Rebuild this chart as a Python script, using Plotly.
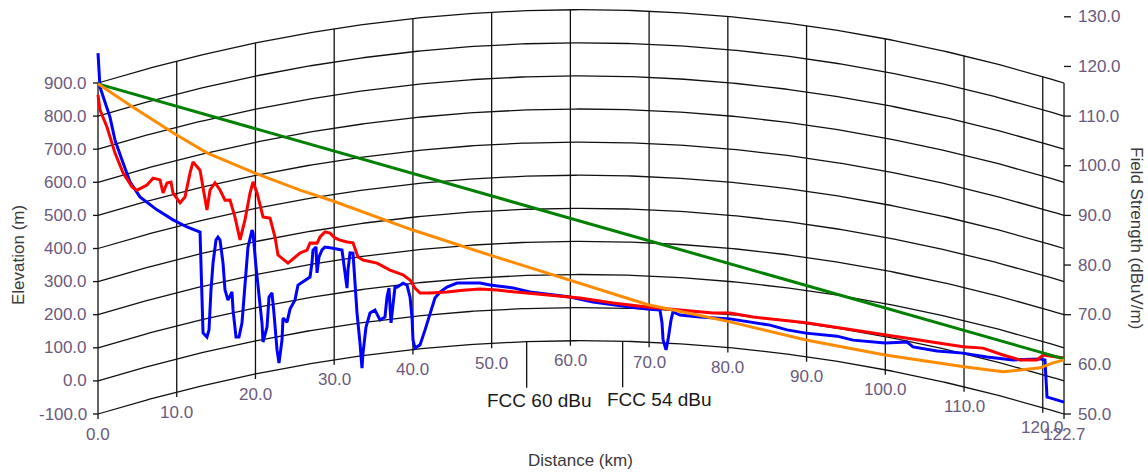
import numpy as np
import plotly.graph_objects as go

# ---------------- data ----------------
TOTAL_KM = 122.7
EARTH_DIV = 17.0  # 4/3 earth bulge: d1*d2/(12.74*4/3)  (m, with km)

dist_ticks = [0, 10, 20, 30, 40, 50, 60, 70, 80, 90, 100, 110, 120, 122.7]
elev_levels = [-100, 0, 100, 200, 300, 400, 500, 600, 700, 800, 900]
fs_ticks = [50, 60, 70, 80, 90, 100, 110, 120, 130]

terrain_km = [0.0, 0.25, 1.52, 2.16, 3.05, 4.06, 5.33, 7.49, 9.53, 11.30, 12.96, 13.21, 13.34,
              13.84, 14.10, 14.35, 14.61, 14.99, 15.24, 15.50, 15.88, 16.13, 16.51, 17.02, 17.15,
              17.53, 17.91, 18.29, 18.54, 19.05, 19.56, 19.69, 20.07, 20.45, 20.83, 20.96, 21.47,
              21.72, 22.10, 22.35, 22.74, 22.99, 23.37, 23.50, 24.01, 24.39, 25.02, 25.40, 26.29,
              26.93, 27.18, 27.31, 27.69, 27.82, 28.07, 28.45, 28.83, 29.85, 30.99, 31.37, 31.63,
              31.75, 32.01, 32.39, 32.64, 32.90, 33.28, 33.53, 33.66, 34.04, 34.55, 35.18, 35.82,
              36.45, 36.71, 36.96, 37.22, 37.47, 37.72, 37.98, 38.36, 38.74, 39.25, 39.63, 39.88,
              40.01, 40.26, 40.90, 41.53, 42.17, 42.80, 43.44, 44.33, 45.60, 47.25, 48.52, 49.79,
              52.71, 54.87, 57.03, 59.95, 62.87, 65.41, 67.57, 69.73, 71.38, 71.64, 71.77, 72.15,
              72.40, 72.78, 73.03, 73.92, 76.46, 80.27, 83.20, 85.36, 87.51, 89.93, 93.87, 95.90,
              99.96, 102.76, 103.52, 106.57, 109.87, 112.92, 116.22, 119.65, 120.28, 120.54,
              120.92, 122.70]
terrain_m = [990, 886, 786, 712, 646, 573, 519, 466, 423, 391, 366, 196, 59,
             44, 64, 183, 263, 331, 338, 328, 256, 174, 141, 163, 108,
             24, 22, 63, 140, 288, 337, 328, 223, 130, 50, -8, 35,
             124, 135, 73, -40, -81, -13, 53, 38, 76, 101, 144, 156,
             162, 204, 242, 250, 171, 218, 238, 245, 238, 228, 166, 111,
             165, 216, 214, 132, 31, -61, -137, -92, -15, 26, 33, 1,
             8, 68, 94, -12, 47, 95, 94, 99, 104, 97, 60, -1,
             -71, -96, -88, -45, 5, 49, 66, 79, 89, 86, 84, 76,
             64, 50, 42, 32, 17, 9, 4, 0, -1, -40, -91, -121,
             -91, -30, -5, -13, -15, -13, -18, -19, -27, -29, -24, -28,
             -19, -3, -14, -11, 1, 7, 19, 45, 46, -64,
             -64, -64]

clutter_km = [0.0, 0.25, 1.14, 2.16, 3.18, 4.32, 4.95, 6.22, 6.99, 7.88, 8.26, 8.76, 9.27, 9.53,
              10.42, 11.05, 11.69, 12.07, 12.96, 13.34, 13.84, 14.23, 14.86, 15.50, 16.13, 16.77,
              17.40, 18.04, 18.67, 19.31, 19.69, 20.20, 20.96, 21.85, 22.48, 22.86, 24.13, 25.66,
              26.55, 26.93, 27.82, 28.20, 28.83, 29.47, 30.10, 30.74, 31.63, 32.39, 33.02, 33.66,
              35.44, 37.09, 38.74, 39.63, 40.26, 40.90, 42.17, 44.33, 46.36, 48.52, 50.68, 52.71,
              57.03, 61.22, 65.41, 69.73, 73.92, 78.12, 80.27, 83.20, 89.93, 95.90, 99.96, 104.41,
              109.87, 112.41, 114.95, 117.11, 119.27, 120.03, 122.70]
clutter_m = [864, 817, 759, 673, 606, 556, 542, 549, 565, 554, 512, 539, 539, 504,
             469, 483, 552, 583, 553, 500, 428, 486, 504, 479, 445, 442,
             387, 315, 372, 450, 482, 446, 370, 362, 302, 246, 216, 240,
             245, 265, 261, 278, 291, 285, 268, 259, 250, 245, 200, 189,
             174, 148, 129, 111, 85, 69, 66, 64, 66, 66, 60, 52,
             39, 29, 15, 6, 2, 0, 5, 0, 2, 3, 5, 11,
             20, 31, 26, 25, 39, 59, 69]

fs_km = [0.0, 4.06, 9.78, 13.84, 19.94, 25.66, 29.85, 39.88, 49.79, 59.82, 69.86, 79.89,
         89.93, 99.96, 110.0, 114.95, 119.65, 121.3, 122.7]
fs_dbu = [116.5, 112.2, 106.4, 102.6, 98.5, 95.1, 92.9, 87.1, 82.0, 77.0, 72.0, 68.7,
          64.9, 61.9, 59.5, 58.5, 59.3, 60.3, 60.9]

los_km = [0.0, 122.7]
los_dbu = [116.5, 61.1]

fcc_km = [54.45, 66.64]
fcc_labels = ["FCC 60 dBu", "FCC 54 dBu"]

# ---------------- helpers ----------------
def bulge(d):
    d = np.asarray(d, dtype=float)
    return d * (TOTAL_KM - d) / EARTH_DIV

PX_PER_KM = 7.873
PX_PER_M = 0.331
X_RANGE = [-98 / PX_PER_KM, (1148 - 98) / PX_PER_KM]
Y_RANGE = [-100 - (472 - 414) / PX_PER_M, -100 + 414 / PX_PER_M]
Y2_RANGE = [50 + (Y_RANGE[0] + 100) / 15.0, 50 + (Y_RANGE[1] + 100) / 15.0]

GRID = "#111111"
fig = go.Figure()

# curved elevation grid
gx, gy = [], []
dd = np.linspace(0, TOTAL_KM, 240)
for lv in elev_levels:
    gx += list(dd) + [None]
    gy += list(lv + bulge(dd)) + [None]
# vertical distance lines
bottom_ext = 5 / PX_PER_M
for d in dist_ticks:
    b = float(bulge(d))
    gx += [d, d, None]
    gy += [elev_levels[0] + b - bottom_ext, elev_levels[-1] + b, None]
# left ticks
for lv in elev_levels:
    gx += [-5 / PX_PER_KM, 0, None]
    gy += [lv, lv, None]
fig.add_trace(go.Scatter(x=gx, y=gy, mode="lines", line=dict(color=GRID, width=1.3),
                         hoverinfo="skip", showlegend=False))

# right axis ticks (field strength)
rx, ry = [], []
for v in fs_ticks:
    rx += [TOTAL_KM, TOTAL_KM + 7 / PX_PER_KM, None]
    ry += [v, v, None]
fig.add_trace(go.Scatter(x=rx, y=ry, yaxis="y2", mode="lines", line=dict(color=GRID, width=1.3),
                         hoverinfo="skip", showlegend=False))

# FCC contour markers
fx, fy = [], []
for d in fcc_km:
    b = float(bulge(d))
    fx += [d, d, None]
    fy += [-100 + b, -100 + b - 46 / PX_PER_M, None]
fig.add_trace(go.Scatter(x=fx, y=fy, mode="lines", line=dict(color=GRID, width=1.3),
                         hoverinfo="skip", showlegend=False))

# terrain & clutter with earth curvature
fig.add_trace(go.Scatter(x=terrain_km, y=np.array(terrain_m) + bulge(terrain_km), mode="lines",
                         line=dict(color="#0000ff", width=3), showlegend=False))
fig.add_trace(go.Scatter(x=clutter_km, y=np.array(clutter_m) + bulge(clutter_km), mode="lines",
                         line=dict(color="#ff0000", width=3), showlegend=False))
# field strength lines
fig.add_trace(go.Scatter(x=los_km, y=los_dbu, yaxis="y2", mode="lines",
                         line=dict(color="#008000", width=3), showlegend=False))
fig.add_trace(go.Scatter(x=fs_km, y=fs_dbu, yaxis="y2", mode="lines",
                         line=dict(color="#ff8c00", width=3), showlegend=False))

FONT = "Arial, Liberation Sans, sans-serif"
TICKC = "#6a5a7e"
ann = []
for lv in elev_levels:
    ann.append(dict(x=0, y=lv, xref="x", yref="y", text=f"{lv:.1f}", showarrow=False,
                    xanchor="right", yanchor="middle", xshift=-9,
                    font=dict(family=FONT, size=17, color=TICKC)))
for v in fs_ticks:
    ann.append(dict(x=TOTAL_KM, y=v, xref="x", yref="y2", text=f"{v:.1f}", showarrow=False,
                    xanchor="left", yanchor="middle", xshift=12,
                    font=dict(family=FONT, size=17, color=TICKC)))
for d in dist_ticks:
    ann.append(dict(x=d, y=-100 + float(bulge(d)), xref="x", yref="y", text=f"{d:.1f}",
                    showarrow=False, xanchor="center", yanchor="middle", yshift=-20,
                    font=dict(family=FONT, size=17, color=TICKC)))
for d, lab, sh in zip(fcc_km, fcc_labels, [13, 37]):
    ann.append(dict(x=d, y=-100 + float(bulge(d)) - 46 / PX_PER_M, xref="x", yref="y", text=lab,
                    showarrow=False, xanchor="center", yanchor="top", xshift=sh,
                    font=dict(family=FONT, size=19, color="#1a1a1a")))
ann.append(dict(x=580 / 1148, y=1 - 460 / 472, xref="paper", yref="paper", text="Distance (km)",
                showarrow=False, xanchor="center", yanchor="middle",
                font=dict(family=FONT, size=17, color="#3a3a3a")))
ann.append(dict(x=18 / 1148, y=1 - 255 / 472, xref="paper", yref="paper", text="Elevation (m)",
                showarrow=False, xanchor="center", yanchor="middle", textangle=-90,
                font=dict(family=FONT, size=17, color="#3a3a3a")))
ann.append(dict(x=1137 / 1148, y=1 - 238 / 472, xref="paper", yref="paper",
                text="Field Strength (dBuV/m)", showarrow=False, xanchor="center",
                yanchor="middle", textangle=90,
                font=dict(family=FONT, size=17, color="#3a3a3a")))

fig.update_layout(
    width=1148, height=472, autosize=False,
    margin=dict(l=0, r=0, t=0, b=0),
    paper_bgcolor="white", plot_bgcolor="white",
    xaxis=dict(range=X_RANGE, visible=False, fixedrange=True),
    yaxis=dict(range=Y_RANGE, visible=False, fixedrange=True),
    yaxis2=dict(range=Y2_RANGE, visible=False, overlaying="y", side="right", fixedrange=True),
    annotations=ann,
    showlegend=False,
)

fig.write_html("out.html", config={"displayModeBar": False},
               post_script="document.body.style.margin='0';")
